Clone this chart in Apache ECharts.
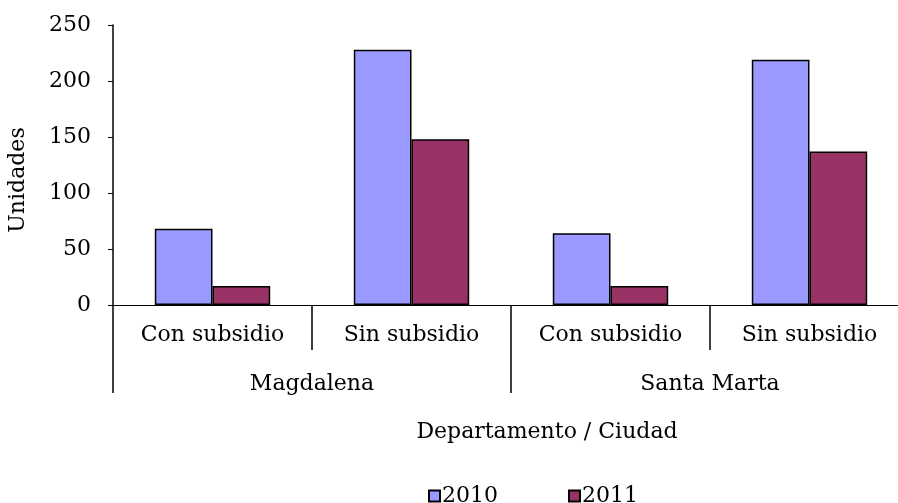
<!DOCTYPE html>
<html>
<head>
<meta charset="utf-8">
<script src="https://cdn.jsdelivr.net/npm/echarts@6/dist/echarts.min.js"></script>
<style>
  html, body { margin: 0; padding: 0; background: #fff; }
  #chart { width: 898px; height: 503px; }
</style>
</head>
<body>
<div id="chart"></div>
<script>
const subCategories = ['Con subsidio', 'Sin subsidio', 'Con subsidio', 'Sin subsidio']
const groups = ['Magdalena', 'Santa Marta']
const values2010 = [68, 228, 64, 219]
const values2011 = [17, 148, 17, 137]
const yTicks = [0, 50, 100, 150, 200, 250]

const font = 'DejaVu Serif'

const chart = echarts.init(document.getElementById('chart'))

const option = {
  animation: false,
  title: {
    text: 'Departamento / Ciudad',
    left: 542,
    top: 416,
    textAlign: 'center',
    textStyle: { fontFamily: font, fontSize: 22, fontWeight: 'normal', color: '#000' }
  },
  legend: {
    data: ['2010', '2011'],
    top: 480,
    left: 423,
    itemGap: 70,
    itemWidth: 11,
    itemHeight: 11,
    icon: 'rect',
    textStyle: { fontFamily: font, fontSize: 22, color: '#000', padding: [0, 0, 0, -3] }
  },
  grid: { left: 113, right: -11, top: 25, bottom: 198, outerBoundsMode: 'none' },
  xAxis: [
    {
      type: 'category',
      data: subCategories,
      position: 'bottom',
      axisLine: { lineStyle: { color: '#000', width: 1 } },
      axisTick: { show: true, length: 45, lineStyle: { color: '#000', width: 1.5 } },
      axisLabel: { margin: 19, color: '#000', fontFamily: font, fontSize: 22, interval: 0 }
    },
    {
      type: 'category',
      data: groups,
      position: 'bottom',
      axisLine: { show: false },
      axisTick: { show: true, length: 88, lineStyle: { color: '#000', width: 1.5 } },
      axisLabel: { margin: 68, color: '#000', fontFamily: font, fontSize: 22, interval: 0 }
    }
  ],
  yAxis: {
    type: 'value',
    min: yTicks[0],
    max: yTicks[yTicks.length - 1],
    interval: 50,
    name: 'Unidades',
    nameLocation: 'middle',
    nameGap: 84,
    nameTextStyle: { fontFamily: font, fontSize: 22, color: '#000', padding: [0, 0, 0, -30] },
    axisLine: { show: true, lineStyle: { color: '#000', width: 1.5 } },
    axisTick: { show: true, length: 5, lineStyle: { color: '#000' } },
    splitLine: { show: false },
    axisLabel: { margin: 22, color: '#000', fontFamily: font, fontSize: 22 }
  },
  series: [
    {
      name: '2010',
      type: 'bar',
      data: values2010,
      barGap: '0%',
      barCategoryGap: '42%',
      itemStyle: { color: '#9999FF', borderColor: '#000', borderWidth: 1.5 }
    },
    {
      name: '2011',
      type: 'bar',
      data: values2011,
      itemStyle: { color: '#993366', borderColor: '#000', borderWidth: 1.5 }
    }
  ]
}

chart.setOption(option)
</script>
</body>
</html>
